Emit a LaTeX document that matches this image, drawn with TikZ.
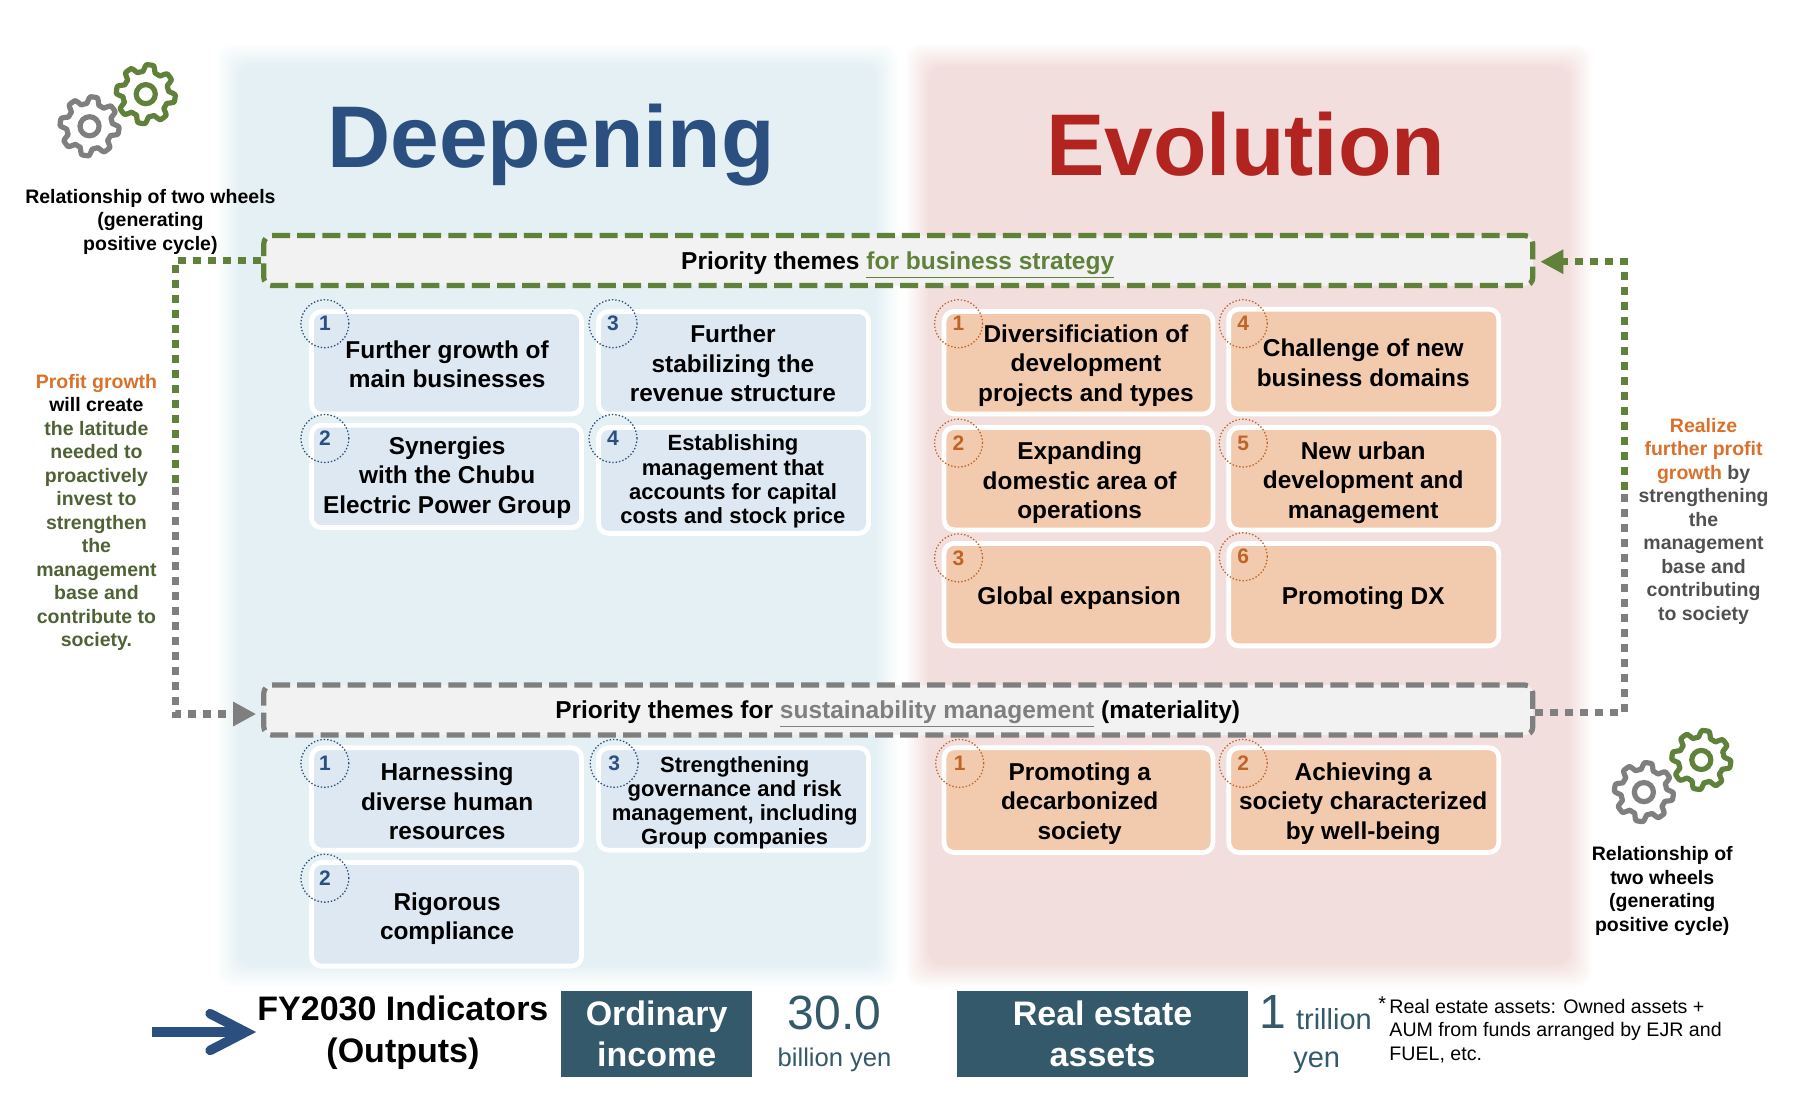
\documentclass[tikz,border=0pt]{standalone}
\usepackage{fontspec}
\setmainfont{Liberation Sans}
\usetikzlibrary{arrows.meta,calc}
\definecolor{panB}{HTML}{E4F0F4}
\definecolor{panR}{HTML}{F2DFDD}
\definecolor{navy}{HTML}{2B4F7E}
\definecolor{redT}{HTML}{B22420}
\definecolor{grn}{HTML}{5F8139}
\definecolor{gry}{HTML}{7F7F7F}
\definecolor{olive}{HTML}{4F6235}
\definecolor{orng}{HTML}{D9712B}
\definecolor{boxB}{HTML}{DEE8F3}
\definecolor{boxO}{HTML}{F2CBAE}
\definecolor{numO}{HTML}{BF6428}
\definecolor{teal}{HTML}{34596A}
\definecolor{dgry}{HTML}{505050}
\definecolor{barF}{HTML}{F2F2F2}
\newcommand\fs[2]{\fontsize{#1}{#2}\selectfont}
\newcommand\tbox[6]{%
  \pgfmathsetlengthmacro\bw{(#5-#3)*0.574pt-1.6pt}%
  \pgfmathsetlengthmacro\bh{(#6-#4)*0.574pt-1.6pt}%
  \pgfmathsetmacro\bx{(#3+#5)/2}%
  \pgfmathsetmacro\by{(#4+#6)/2}%
  \node[#2,minimum width=\bw,minimum height=\bh] (#1) at (\bx,\by) {};}
\tikzset{
  x=0.574pt,y=-0.574pt,
  bb/.style={draw=white,line width=2.4pt,rounded corners=5pt,fill=boxB,inner sep=0pt},
  ob/.style={bb,fill=boxO},
  tx/.style={align=center,inner sep=0pt,font=\fs{12.2}{14.6}\bfseries,text=black},
  txs/.style={tx,font=\fs{11}{12.1}\bfseries},
  numB/.style={circle,minimum size=24pt,inner sep=0pt,draw=navy,line width=.65pt,dash pattern=on .7pt off 1pt,text=navy,font=\fs{10.5}{11}\bfseries},
  numR/.style={numB,draw=numO,text=numO},
  bar/.style={rounded corners=4pt,line width=2.6pt,dash pattern=on 9pt off 3.6pt,fill=barF,minimum width=634.5pt,minimum height=25pt,inner sep=0pt},
  dotline/.style={line width=3.6pt,dash pattern=on 3.9pt off 3.6pt},
  side/.style={align=center,inner sep=0pt,font=\fs{9.75}{11.75}\bfseries},
  tealbox/.style={fill=teal,text=white,align=center,inner sep=0pt,font=\fs{17}{20.7}\bfseries},
  tealtx/.style={text=teal,inner sep=0pt},
  title/.style={anchor=base,inner sep=0pt,font=\fs{43.8}{44}\bfseries},
  pics/gear/.style={code={
    \draw[#1,line width=2.6pt,line join=round]
      plot[domain=0:360,samples=193] (\x:{22.8+2.9*max(-1,min(1,1.9*sin(8*\x+22.5)))}) -- cycle;
    \draw[#1,line width=2.6pt] (0,0) circle (8.3);
  }}
}
\begin{document}
\begin{tikzpicture}
\useasboundingbox (0,0) rectangle (1568,967);
% soft panels
\foreach \i in {0,...,14}{
  \pgfmathsetmacro\m{\i*100/14}
  \fill[panB!\m!white,rounded corners=7pt] ({188+\i*1.5},{37+\i*1.5}) rectangle ({784-\i*1.5},{861-\i*1.5});
  \fill[panR!\m!white,rounded corners=7pt] ({788+\i*1.5},{37+\i*1.5}) rectangle ({1388-\i*1.5},{861-\i*1.5});
}
\node[title,text=navy] (deep) at (480,146) {Deepening};
\node[title,text=redT] (evo) at (1085,153) {Evolution};
% gears
\pic at (127,82) {gear=grn};
\pic at (78,110) {gear=gry};
\pic at (1482,662) {gear=grn};
\pic at (1432,690) {gear=gry};
\node[side,text=black] (relL) at (131,193) {Relationship of two wheels\\(generating\\positive cycle)};
\node[side,text=black] (relR) at (1448,776) {Relationship of\\two wheels\\(generating\\positive cycle)};
% bars
\node[bar,draw=grn] (gbar) at (782.5,227) {};
\node[bar,draw=gry] (sbar) at (782.5,618.5) {};
\node[inner sep=0pt,font=\fs{12.25}{13}\bfseries] (gtxt) at (782,231) {Priority themes \textcolor{grn}{\underline{for business strategy}}};
\node[inner sep=0pt,font=\fs{12.25}{13}\bfseries] (stxt) at (782,622) {Priority themes for \textcolor{gry}{\underline{sustainability management}} (materiality)};
% connectors
\coordinate (lc1) at (153,227);
\coordinate (lsw) at (153,424);
\coordinate (lc2) at (153,622);
\coordinate (rc1) at (1415,228);
\coordinate (rsw) at (1415,427);
\coordinate (rc2) at (1415,621);
\draw[dotline,draw=grn] (gbar.west) -- (lc1) -- (lsw);
\draw[dotline,draw=gry,-{Triangle[length=11.5pt,width=11.5pt]},shorten >=2.5pt] (lsw) -- (lc2) -- (sbar.west |- lc2);
\draw[dotline,draw=gry] (sbar.east |- rc2) -- (rc2) -- (rsw);
\draw[dotline,draw=grn,-{Triangle[length=11.5pt,width=11.5pt]},shorten >=2.5pt] (rsw) -- (rc1) -- (gbar.east |- rc1);
% side texts
\node[side] (sl) at (84,446.5) {\textcolor{orng}{Profit growth}\\will create\\\textcolor{olive}{the latitude}\\\textcolor{olive}{needed to}\\\textcolor{olive}{proactively}\\\textcolor{olive}{invest to}\\\textcolor{olive}{strengthen}\\\textcolor{olive}{the}\\\textcolor{olive}{management}\\\textcolor{olive}{base and}\\\textcolor{olive}{contribute to}\\\textcolor{olive}{society.}};
\node[side,text=dgry] (sr) at (1484,454) {\textcolor{orng}{Realize}\\\textcolor{orng}{further profit}\\\textcolor{orng}{growth} by\\strengthening\\the\\management\\base and\\contributing\\to society};
% upper boxes
\tbox{b1}{bb}{270}{270}{508}{362}
\tbox{b3}{bb}{520}{270}{758}{362}
\tbox{b2}{bb}{270}{369}{508}{461}
\tbox{b4}{bb}{520}{371}{758}{466}
\tbox{o1}{ob}{821}{270}{1058}{362}
\tbox{o4}{ob}{1069}{268}{1307}{362}
\tbox{o2}{ob}{821}{371}{1058}{463}
\tbox{o5}{ob}{1069}{371}{1307}{463}
\tbox{o3}{ob}{821}{472}{1058}{564}
\tbox{o6}{ob}{1069}{472}{1307}{564}
% lower boxes
\tbox{c1}{bb}{270}{650}{508}{742}
\tbox{c3}{bb}{520}{650}{758}{742}
\tbox{c2}{bb}{270}{750}{508}{843}
\tbox{p1}{ob}{821}{650}{1058}{744}
\tbox{p2}{ob}{1069}{650}{1307}{744}
% numbers
\node[numB] (nb1) at (283,282) {1};
\node[numB] (nb3) at (534,282) {3};
\node[numB] (nb2) at (283,382) {2};
\node[numB] (nb4) at (534,382) {4};
\node[numR] (no1) at (835,282) {1};
\node[numR] (no4) at (1083,282) {4};
\node[numR] (no2) at (835,386) {2};
\node[numR] (no5) at (1083,386) {5};
\node[numR] (no3) at (835,486) {3};
\node[numR] (no6) at (1083,485) {6};
\node[numB] (nc1) at (283,665) {1};
\node[numB] (nc3) at (535,665) {3};
\node[numB] (nc2) at (283,765) {2};
\node[numR] (np1) at (836,665) {1};
\node[numR] (np2) at (1083,665) {2};
% box texts
\node[tx] (tb1) at (389.5,317) {Further growth of\\main businesses};
\node[tx] (tb3) at (638.5,316.5) {Further\\stabilizing the\\revenue structure};
\node[tx] (tb2) at (389.5,416) {Synergies\\with the Chubu\\Electric Power Group};
\node[txs] (tb4) at (638.5,419.5) {Establishing\\management that\\accounts for capital\\costs and stock price};
\node[tx] (to1) at (946,318.5) {Diversificiation of\\development\\projects and types};
\node[tx] (to4) at (1187.5,316) {Challenge of new\\business domains};
\node[tx] (to2) at (940.5,420.5) {Expanding\\domestic area of\\operations};
\node[tx] (to5) at (1187.5,420.5) {New urban\\development and\\management};
\node[tx] (to3) at (940,521) {Global expansion};
\node[tx] (to6) at (1187.5,521) {Promoting DX};
\node[tx] (tc1) at (389.5,698) {Harnessing\\diverse human\\resources};
\node[txs] (tc3) at (640,699.5) {Strengthening\\governance and risk\\management, including\\Group companies};
\node[tx] (tc2) at (389.5,800) {Rigorous\\compliance};
\node[tx] (tp1) at (940.5,700) {Promoting a\\decarbonized\\society};
\node[tx] (tp2) at (1187.5,700) {Achieving a\\society characterized\\by well-being};
% bottom
\coordinate (as) at (132,899);
\coordinate (ae) at (208,899);
\coordinate (au) at (183,883);
\coordinate (ad) at (183,915);
\coordinate (at) at (214,899);
\draw[navy,line width=4.6pt] (as) -- (ae);
\draw[navy,line width=4.8pt,line join=miter,miter limit=8,line cap=round] (au) -- (at) -- (ad);
\node[align=center,inner sep=0pt,font=\fs{17}{20.7}\bfseries] (fy) at (351,899.5) {FY2030 Indicators\\(Outputs)};
\node[tealbox,minimum width=95.3pt,minimum height=43pt] (oi) at (572,900.5) {Ordinary\\income};
\node[tealtx,font=\fs{24}{25}] (v30) at (727,882.5) {30.0};
\node[tealtx,font=\fs{12.8}{14}] (by) at (727,923) {billion yen};
\node[tealbox,minimum width=145.2pt,minimum height=43pt] (re) at (960.5,900.5) {Real estate\\assets};
\node[tealtx,font=\fs{24}{25}] (v1) at (1109,881.5) {1};
\node[tealtx,font=\fs{14.5}{15}] (tr) at (1162,888) {trillion};
\node[tealtx,font=\fs{14.5}{15}] (yn) at (1147,926) {yen};
\node[inner sep=0pt,font=\fs{10}{11}] (st) at (1204,874) {*};
\node[anchor=west,align=left,inner sep=0pt,font=\fs{9.8}{11.8}] (note) at (1210,898) {Real estate assets: Owned assets +\\AUM from funds arranged by EJR and\\FUEL, etc.};
\end{tikzpicture}
\end{document}
